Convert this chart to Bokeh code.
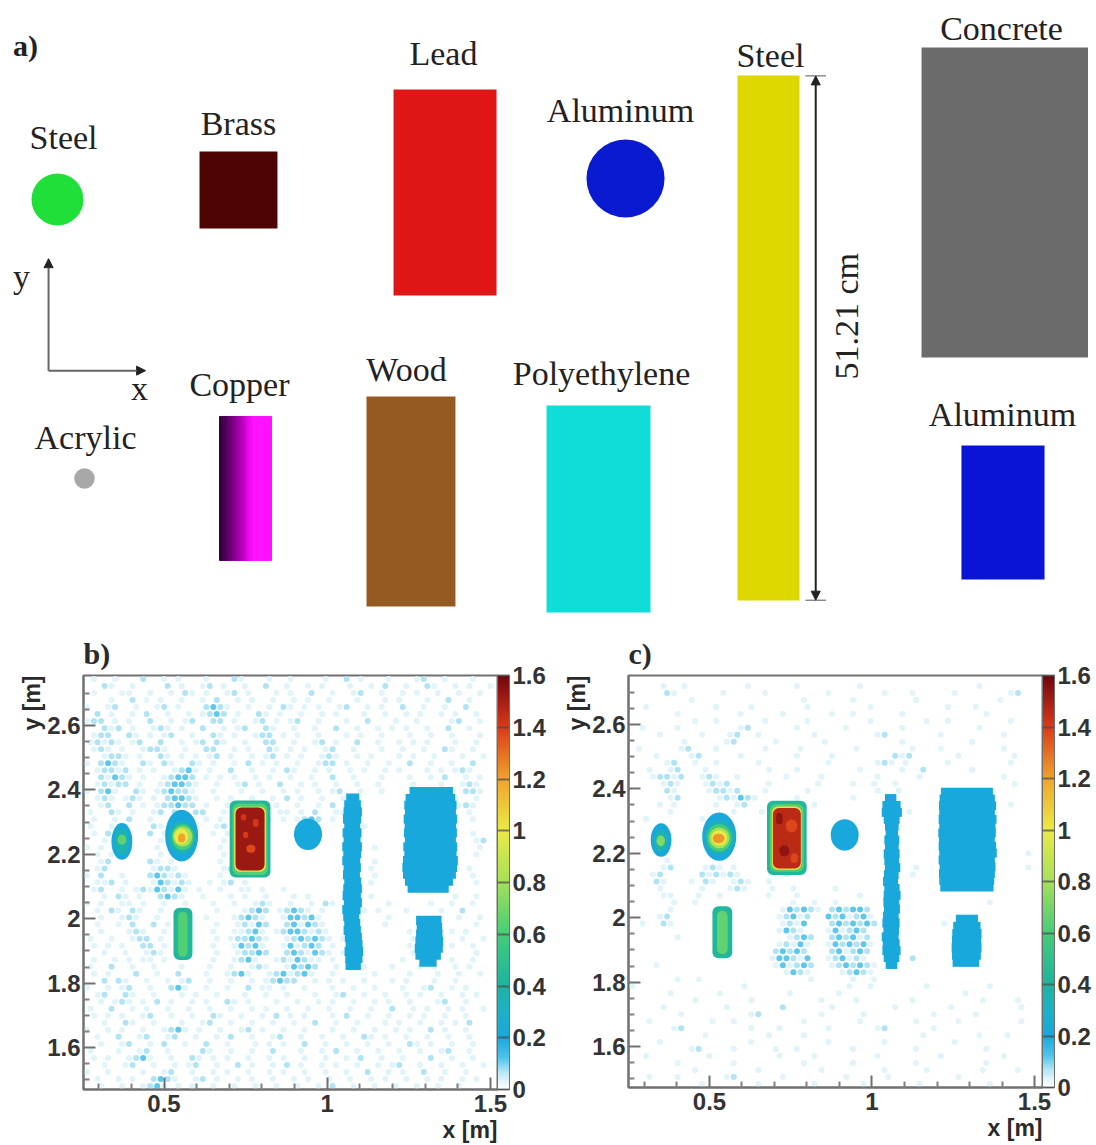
from math import pi
import numpy as np
from bokeh.core.properties import value
from bokeh.embed import file_html
from bokeh.layouts import column, row
from bokeh.models import (Arrow, ColorBar, ColumnDataSource, FixedTicker, LinearColorMapper,
                          NormalHead, Range1d, Title)
from bokeh.plotting import figure
from bokeh.resources import INLINE

# ---------- panel a: the layout of the objects, in cm ----------
SERIF = "Liberation Serif"
SANS = "Liberation Sans"
box_names = ["Brass", "Lead", "Steel bar", "Concrete", "Aluminum block", "Polyethylene", "Wood"]
box_left = [18.60, 37.49, 70.98, 88.90, 92.79, 52.39, 34.86]
box_right = [26.19, 47.52, 77.02, 105.16, 100.88, 62.51, 43.52]
box_top = [46.64, 52.68, 54.04, 56.77, 18.01, 21.91, 22.78]
box_bottom = [39.14, 32.62, 2.92, 26.58, 4.97, 1.75, 2.34]
box_color = ["#4f0404", "#e01616", "#dcd800", "#6b6b6b", "#0a14d6", "#10dcd8", "#955a20"]
disc_x = [4.77, 60.08, 7.40]
disc_y = [41.97, 44.01, 14.80]
disc_d = [5.06, 7.60, 2.00]
disc_color = ["#1fe038", "#0a1ad0", "#a8a8a8"]
copper_left = 20.55
copper_right = 25.61
copper_colors = ["#30003a", "#3c0045", "#480052", "#55005e", "#62006a", "#700078", "#7e0086", "#8c0094", "#9b00a2",
                 "#aa00b0", "#b900be", "#c800cc", "#d704d8", "#e608e6", "#f40cf2", "#fd10fb", "#ff12ff", "#ff12ff",
                 "#ff12ff", "#ff12ff", "#ff12ff", "#ff12ff", "#ff12ff", "#fb12fb"]
label_text = ["Steel", "Brass", "Lead", "Aluminum", "Steel", "Concrete", "y", "x", "Copper", "Wood",
              "Polyethylene", "Acrylic", "Aluminum"]
label_x = [5.36, 22.39, 42.35, 59.59, 74.19, 96.69, 1.27, 12.75, 22.49, 38.75, 57.74, 7.50, 96.79]
label_y = [48.0, 49.36, 56.19, 50.63, 55.99, 58.62, 34.5, 23.55, 23.97, 25.42, 25.03, 18.78, 21.03]

# ---------- panels b and c: the maps ----------
tick_x = [0.5, 1, 1.5]
minor_x = [0.3, 0.4, 0.6, 0.7, 0.8, 0.9, 1.1, 1.2, 1.3, 1.4]
tick_y = [1.6, 1.8, 2, 2.2, 2.4, 2.6]
minor_y = [1.5, 1.55, 1.65, 1.7, 1.75, 1.85, 1.9, 1.95, 2.05, 2.1, 2.15, 2.25, 2.3, 2.35, 2.45, 2.5, 2.55, 2.65, 2.7]
bar_ticks = [0, 0.2, 0.4, 0.6, 0.8, 1, 1.2, 1.4, 1.6]
ramp_at = [0, 0.03, 0.07, 0.12, 0.2, 0.3, 0.4, 0.6, 0.8, 1, 1.2, 1.4, 1.6]
ramp_rgb = [(255, 255, 255), (226, 245, 251), (175, 228, 245), (80, 195, 235), (24, 168, 220), (30, 178, 200),
            (30, 180, 160), (70, 205, 120), (165, 225, 90), (235, 235, 70), (240, 165, 45), (220, 60, 25), (115, 5, 15)]

# b: nested boxes of the measured value: left, right, top, bottom, value
b_box_left = [.529, .543, .701, .710, .715, .719, .742, .772, .752, .735]
b_box_right = [.587, .572, .826, .817, .812, .808, .758, .790, .780, .752]
b_box_top = [2.034, 2.022, 2.367, 2.358, 2.348, 2.345, 2.270, 2.310, 2.230, 2.325]
b_box_bottom = [1.872, 1.882, 2.128, 2.136, 2.146, 2.150, 2.250, 2.285, 2.205, 2.305]
b_box_value = [.42, .62, .42, .62, 1.02, 1.52, 1.40, 1.42, 1.38, 1.42]
b_el_x = [.371, .371, .371, .554, .555, .557, .557, .553, .554, .941]
b_el_y = [2.240, 2.240, 2.245, 2.258, 2.252, 2.253, 2.255, 2.255, 2.251, 2.262]
b_el_w = [.064, .043, .027, .101, .083, .067, .059, .043, .022, .086]
b_el_h = [.114, .083, .031, .161, .098, .080, .062, .048, .028, .098]
b_el_value = [.2, .36, .66, .2, .36, .6, .8, 1.0, 1.2, .2]
b_bar_left = [1.058, 1.052, 1.050, 1.048, 1.052, 1.047, 1.050, 1.046, 1.049, 1.046, 1.050, 1.048, 1.052, 1.049, 1.047,
              1.051, 1.046, 1.049, 1.052, 1.050, 1.054, 1.056, 1.053, 1.055, 1.056]
b_bar_right = [1.098, 1.103, 1.106, 1.104, 1.101, 1.105, 1.102, 1.106, 1.104, 1.101, 1.103, 1.100, 1.104, 1.106, 1.103,
               1.106, 1.102, 1.098, 1.101, 1.103, 1.106, 1.108, 1.110, 1.108, 1.103]
b_concrete_left = [1.252, 1.240, 1.236, 1.238, 1.234, 1.237, 1.235, 1.238, 1.233, 1.236, 1.232, 1.230, 1.232, 1.238, 1.246]
b_concrete_right = [1.385, 1.392, 1.396, 1.394, 1.398, 1.395, 1.397, 1.394, 1.398, 1.396, 1.400, 1.398, 1.394, 1.385, 1.372]
b_alu_left = [1.272, 1.274, 1.272, 1.270, 1.268, 1.270, 1.282]
b_alu_right = [1.350, 1.352, 1.353, 1.355, 1.354, 1.348, 1.335]
b_noise = [
    " .  .   :  . .   .   :.   .  .    .  : .   .   .:  .   . ",
    "  :.  .    : .  .: .  .  :  .  . .   .  . :  .  :.  . .  .",
    " .   ..  .  . :. .  .: .   . .  :  .  .:  .  . .  .  .  .",
    "   .  : . .  .  . :  . .  .  . .  .   .   . .   .  :  .  ",
    ".  .:  .  .: .   :*:.  .  . :. . .  .:  . .  :  .  .  :  ",
    " : .  . :  .  . .:*: .  :. .  .  . .   .  .  . .  . .  . ",
    ".:: . .  :  . .:  :: .  .: . .:  .   .  :   .  .    .:  .",
    "  :.: .  .:. .  :  . .:  :.  .  .  :  .  . . .  .  :  .  ",
    " .::  :. . .:  .  :. .  .:: . .  .   . .  .   .  .  .   .",
    ".:.:. .:  :  . .: :.  .  ::  .  .: .  :  .  . . .   .  . ",
    " .:. .  .::.  .  ::  . .  :. . .  .:  .   .  .  .  :.  . ",
    "  .::. .  :. . . .: .  . .: . .  .:.  . .   . .  .   .  .",
    ". :*:.  :. :.  :. .  . : . .  .  .:: .  .  .  :  .  .  : ",
    " .::.: . .  .:*. .  :  .  . :.  . .  . .  . .   . . .:.  ",
    "  :.*:. .  .:**: . . .  . .  .  .  :  .   .   .  . :  . .",
    " .:.:: .  .:**:.  .  .: .  :  . .  .  .  .    .   .  .:. ",
    ". :*.  :. .:*::.  .   .  .  . .  . .:  .  .       . . ::.",
    " .:. .:. . :**:.  . .  .  . : .  .  . .             .  . ",
    "  .:  : . .::*:: .  .   .  .  .  . :  .              .:. ",
    ".  :. .  .: :  ::  .  .  . .. . :  ..                 .  ",
    " .  . :  .    .  . .      . . .:*: .                   . ",
    ".  .     :.  .    .:                   .                 ",
    " . :     : .      . .                 .                . ",
    "  .       .  .     .                  .                .:",
    ". .       .        .   .                 .              .",
    " . .      .  .     .                                   . ",
    "  .:     :. .      .                     .               ",
    " .:      .::.      .:.                  .             .  ",
    ". :  .   :*:.:.    .                     .             . ",
    " ..: .   .*:.:.  . .: .                 .              . ",
    " .:  . .:.*:.*. .  .  .. .  .          .                 ",
    "  . :. .  :*:.  .   . .  .   . .        .           .  . ",
    ". .  .. .  .  .   .  .  .:.  .  . :.  .    .     .  .  . ",
    " . :. :.  .       .   .:*: .:*:. .     . .   .    .  :   ",
    "  .  .:.  .  .   .   .:*:.  .**:*.   .     .         .  .",
    " .  . :  : .      .  .:.*:  :*.*:.        .            . ",
    "  .   .:.  .      .  ..:*. .:**:.:.  .        .     . .  ",
    ".  .  .:: .       . .::*:.  .:*:*:. .         .      .  .",
    " . . .  :: .      .  .*:*.  .*.:*: .   .      .     .  . ",
    "  .  .  .:.       .  .::*:  :*:.*:. .         .        . ",
    " .  . . .. .      .  .:*.  .:.*:.. .         .      .  . ",
    ".  :  .  .   .   .  .  .:.  .*:*:  .   .   .   . .  . .  ",
    " . .   :  .  :   .  .:*.  .:*.:*.  .     .    .   .  .  .",
    "  : :.  .  . .:  .  .  . .:*::  . . .  .   . .   .  .    ",
    ".  . .:  .  :*.  .  .  : .. .  .   .  .  .   .  .:  . .  ",
    " .:  :.  .   . .  .   .  .  .   .  .:  .  .  . .  .  . . ",
    "  . .:. . : .  . .  :. .   .  .  . .  .  . .  .   .:  .  ",
    ".  :  . .  .  .  .  .  . .  .  .  .  .  .  :  . .  . .  .",
    " . . .  .:  .  .  :.  .  . : . .   . :  .  .  . .  .  .  ",
    "  .  :.  .   .  .:  .  .  .  .  :  .  .   . .  .  . . :  ",
    ".  . .  .  .:*. .  .  .: .  .  .   .  .  .  . .  : .  .  ",
    " .  :  .:  .:  .  . :  .  .:  .  .  .  :. .  .  .  .  .  ",
    "  .  .:  . :  .  :  .   . . .  :  .  .  .  .  :. .  .  . ",
    ".   .  .:  .    :.  .  .  :   .  . :  .  .  .  .  .:  .  ",
    " . .  .:*.  .  :. . .  .  . .  .  .  . :  .  .   :  .  . ",
    "  .  .:  .  . .:  .  : .  . : .  . .  .  . .:  .  .  .  .",
    ".  .    .  .:  .  . .  .  . .  .  .  .  :  . .  :  .  .  ",
    " .  . .  :*:.  .: .  . .  .  . .  .  .  . .  .  . .  . .",
    "  .  .  .:*. . .  .  .  .  .  .  . :  .  .  .  .  .  .  ",
]

# c: the same, with less background
c_box_left = [.509, .523, .677, .686, .692, .695, .705, .735, .715, .750]
c_box_right = [.570, .556, .799, .790, .783, .781, .725, .770, .745, .772]
c_box_top = [2.036, 2.022, 2.363, 2.353, 2.345, 2.341, 2.325, 2.305, 2.225, 2.200]
c_box_bottom = [1.874, 1.887, 2.133, 2.143, 2.149, 2.153, 2.290, 2.265, 2.190, 2.170]
c_box_value = [.42, .66, .42, .62, 1.02, 1.46, 1.54, 1.38, 1.54, 1.38]
c_el_x = [.351, .351, .350, .530, .530, .530, .530, .530, .528, .916]
c_el_y = [2.241, 2.239, 2.239, 2.252, 2.248, 2.248, 2.248, 2.248, 2.246, 2.257]
c_el_w = [.064, .043, .026, .105, .089, .075, .062, .048, .036, .086]
c_el_h = [.104, .069, .034, .150, .104, .084, .065, .047, .030, .098]
c_el_value = [.2, .36, .72, .2, .36, .6, .8, 1.0, 1.22, .2]
c_bar_left = [1.040, 1.032, 1.030, 1.036, 1.040, 1.042, 1.038, 1.040, 1.036, 1.038, 1.040, 1.037, 1.034, 1.038, 1.036,
              1.035, 1.037, 1.034, 1.032, 1.035, 1.030, 1.033, 1.032, 1.036, 1.042]
c_bar_right = [1.075, 1.088, 1.092, 1.085, 1.082, 1.080, 1.084, 1.082, 1.085, 1.083, 1.087, 1.082, 1.080, 1.085, 1.088,
               1.084, 1.086, 1.082, 1.085, 1.083, 1.082, 1.085, 1.088, 1.084, 1.078]
c_concrete_left = [1.212, 1.208, 1.206, 1.207, 1.205, 1.207, 1.204, 1.206, 1.205, 1.207, 1.205, 1.208, 1.206, 1.207, 1.210]
c_concrete_right = [1.372, 1.378, 1.382, 1.378, 1.383, 1.380, 1.381, 1.378, 1.382, 1.384, 1.378, 1.380, 1.378, 1.376, 1.374]
c_alu_left = [1.258, 1.250, 1.247, 1.246, 1.245, 1.246, 1.248]
c_alu_right = [1.326, 1.334, 1.337, 1.336, 1.337, 1.335, 1.330]
c_noise = [
    "                                                          ",
    "    .  .        .      .        .                .        ",
    "     :.      .     .        .       .   .     .       .:  ",
    "        .               .      .        .           .     ",
    "  .         .    .       .        .          .   .        ",
    "      .        .     .      .  .      .           .       ",
    "         .  .      .     .        .       .  .        .   ",
    " .    .        .:      .      .       .          .        ",
    "    .     .   .:  .       .        .:       .        .    ",
    "       .     .:     .      .          .         .         ",
    " .     .:   .      .    .       .       .   .        .    ",
    "   .    .:     .       .    .        :.:      .       .   ",
    "     .:  .  .     .         .      .:. .     .        .   ",
    "  .  .:   .        .   .        .     .  :      .         ",
    "   .::.:  .:.  .      .    .       .     .           .    ",
    "    .:.   .:.:     .      .    .  .  .                .   ",
    "     :.    .::.:   .     .         .  .                   ",
    "     .:     .:.*:.     .       .                          ",
    "    . .     .  .:     .   .          .                .   ",
    "     .        .   .                    .                  ",
    "  .       .                                               ",
    "                                                 .        ",
    "                                                          ",
    "                                                          ",
    "                                                          ",
    "                                                        . ",
    "     .                                                    ",
    "    .:    .:. .       .                 .               . ",
    "   .:     :.:.:.      .                 .                 ",
    "   :.   . :.  .:.  .                                      ",
    "    .     .   .:.   .  .     .                            ",
    "    ..   .  .      .   .        .                         ",
    "      .  .             .  .  .                     .      ",
    "     .               .*:*:. :*:**:                        ",
    "    .:               .:*.:  *:*.:*.                       ",
    " .  :.               .:.*   :*:*:*:         .             ",
    "                     .*:.   .*.:*:                        ",
    "      .               .:*:  :*:*.:                        ",
    "                     .:.*.  .*:*:*.                       ",
    "                    :*:*:   :*.:*:                        ",
    "                    .**:.*  .:*.:.      :                 ",
    "   .                .*.:*:  .:*:*:.                       ",
    "                      .*:.    .:*:.                       ",
    "      .  .               .     .  .                       ",
    ".               .              .  .       .        .      ",
    "     .      .         .      .                 .          ",
    "         .       .         .    .       .         .    .  ",
    "    .        .       :      .        .       .         .  ",
    "       .         .:        .     .         .     .        ",
    "  .        .  .         .       .       .     .        .  ",
    "      .:         .   .      .      .:      .              ",
    "          .        .    .                .       .   .    ",
    "    .            .          .       .         .           ",
    "        .:    .     .  .       .        .         .       ",
    "  .        .         .    .        .        .        .    ",
    "      .       .         .      .        .         .       ",
    "         .        .        .        .     .       .    .  ",
    "  .   .      .:      .        .     .         .           ",
    "          .       .       .      .       .         .      ",
]

ramp = []
for i in np.linspace(0, 1.6, 256):
    ch = [int(np.interp(i, ramp_at, [c[k] for c in ramp_rgb])) for k in range(3)]
    ramp.append("#%02x%02x%02x" % tuple(ch))
mapper = LinearColorMapper(palette=ramp, low=0, high=1.6)
noise_level = {".": .035, ":": .07, "*": .115}


def heat_panel(xr, yr, frame_h, left, top, bottom, right, noise, boxes, ellipses, bars, tag):
    p = figure(width=left + 414 + right, height=top + frame_h + bottom, frame_width=414, frame_height=frame_h,
               x_range=Range1d(*xr), y_range=Range1d(*yr), toolbar_location=None, output_backend="svg",
               min_border_left=left, min_border_right=right, min_border_top=top, min_border_bottom=bottom)
    p.grid.visible = False
    p.outline_line_color = "#707070"
    p.outline_line_width = 2
    for ax, major, minor, over, standoff in ((p.xaxis[0], tick_x, minor_x, {0.5: "0.5", 1: "1", 1.5: "1.5"}, 5),
                                             (p.yaxis[0], tick_y, minor_y,
                                              {1.6: "1.6", 1.8: "1.8", 2: "2", 2.2: "2.2", 2.4: "2.4", 2.6: "2.6"}, 3)):
        ax.ticker = FixedTicker(ticks=major, minor_ticks=minor)
        ax.major_label_overrides = over
        ax.axis_line_color = "#707070"
        ax.axis_line_width = 2
        ax.major_tick_line_color = "#707070"
        ax.minor_tick_line_color = "#808080"
        ax.major_tick_line_width = 2
        ax.minor_tick_line_width = 2
        ax.major_tick_in = 12
        ax.major_tick_out = 0
        ax.minor_tick_in = 6
        ax.minor_tick_out = 0
        ax.major_label_standoff = standoff
        ax.major_label_text_font = SANS
        ax.major_label_text_font_style = "bold"
        ax.major_label_text_font_size = "24px"
        ax.major_label_text_color = "#333333"

    # background speckles
    cw = (xr[1] - xr[0]) / 59
    ch = (yr[1] - yr[0]) / 59
    nx, ny, nv = [], [], []
    for r, line in enumerate(noise):
        for c, mark in enumerate(line):
            if mark in noise_level:
                nx.append(xr[0] + (c + .5 + .5 * (r % 2)) * cw)
                ny.append(yr[1] - (r + .5) * ch)
                nv.append(noise_level[mark])
    src = ColumnDataSource(dict(x=nx, y=ny, v=nv))
    p.scatter("x", "y", size=6, source=src, line_color=None, fill_color={"field": "v", "transform": mapper})

    # jagged objects of low value, row by row
    for y_top, y_bottom, row_left, row_right in bars:
        ys = np.linspace(y_top, y_bottom, len(row_left))
        hh = (y_top - y_bottom) / (len(row_left) - 1)
        s = ColumnDataSource(dict(y=ys, l=row_left, r=row_right, v=[.2] * len(row_left)))
        p.hbar(y="y", left="l", right="r", height=hh * 1.3, source=s, line_color=None,
               fill_color={"field": "v", "transform": mapper})

    e = ColumnDataSource(dict(zip("xywhv", ellipses)))
    p.ellipse("x", "y", width="w", height="h", source=e, line_color=None,
              fill_color={"field": "v", "transform": mapper})
    b = ColumnDataSource(dict(zip("lrtbv", boxes)))
    p.quad(left="l", right="r", top="t", bottom="b", source=b, line_color=None, border_radius=6,
           fill_color={"field": "v", "transform": mapper})

    cb = ColorBar(color_mapper=mapper, ticker=FixedTicker(ticks=bar_ticks), width=12, padding=0, margin=0,
                  major_label_overrides={0: "0", 0.2: "0.2", 0.4: "0.4", 0.6: "0.6", 0.8: "0.8", 1: "1", 1.2: "1.2",
                                         1.4: "1.4", 1.6: "1.6"},
                  major_tick_line_color="#4a4a4a", major_tick_line_alpha=.7, major_tick_line_width=2, major_tick_in=12,
                  minor_tick_line_color=None, bar_line_color="#707070", bar_line_width=1, label_standoff=3,
                  major_label_text_font=SANS, major_label_text_font_style="bold", major_label_text_font_size="24px",
                  major_label_text_color="#333333")
    p.add_layout(cb, "right")
    p.add_layout(Title(text=tag, align="left", text_font=SERIF, text_font_size="30px", text_font_style="bold",
                       text_color="#2a2a2a", standoff=12), "above")
    p.add_layout(Title(text="x [m]", align="right", text_font=SANS, text_font_size="23px", text_font_style="bold",
                       text_color="#2a2a2a", standoff=0), "below")
    p.add_layout(Title(text="y [m]", align="right", text_font=SANS, text_font_size="23px", text_font_style="bold",
                       text_color="#2a2a2a", standoff=0), "left")
    return p


pa = figure(width=1088, height=624, x_range=Range1d(0, 105.16), y_range=Range1d(.584, 60.56), toolbar_location=None,
            output_backend="svg", min_border_left=8, min_border_top=8, min_border_right=0, min_border_bottom=0)
pa.axis.visible = False
pa.grid.visible = False
pa.outline_line_color = None
pa.quad(left=box_left, right=box_right, top=box_top, bottom=box_bottom, fill_color=box_color, line_color=None)
pa.ellipse(x=disc_x, y=disc_y, width=disc_d, height=disc_d, fill_color=disc_color, line_color=None)
copper_edges = np.linspace(copper_left, copper_right, len(copper_colors) + 1)
pa.quad(left=copper_edges[:-1], right=copper_edges[1:], top=20.84, bottom=6.82, fill_color=copper_colors,
        line_color=copper_colors, line_width=1)
pa.text(x=label_x, y=label_y, text=label_text, text_font=value(SERIF), text_font_size="34px", text_align="center",
        text_baseline="middle", text_color="#222222")
pa.text(x=[81.6], y=[30.6], text=["51.21 cm"], angle=pi / 2, text_font=value(SERIF), text_font_size="34px",
        text_align="center", text_baseline="middle", text_color="#222222")
pa.text(x=[1.65], y=[57.0], text=["a)"], text_font=value(SERIF), text_font_size="30px", text_font_style="bold",
        text_align="center", text_baseline="middle", text_color="#222222")
head = dict(size=9, fill_color="#222222", line_color="#222222")
pa.add_layout(Arrow(x_start=3.9, y_start=25.3, x_end=3.9, y_end=36.2, line_color="#666666", line_width=2,
                    end=NormalHead(**head)))
pa.add_layout(Arrow(x_start=3.9, y_start=25.3, x_end=13.35, y_end=25.3, line_color="#666666", line_width=2,
                    end=NormalHead(**head)))
pa.add_layout(Arrow(x_start=78.6, y_start=2.95, x_end=78.6, y_end=54.0, line_color="#222222", line_width=2,
                    start=NormalHead(**head), end=NormalHead(**head)))
pa.segment(x0=[77.6, 77.6], y0=[54.0, 2.95], x1=[79.6, 79.6], y1=[54.0, 2.95], line_color="#555555", line_width=1)

pb = heat_panel((.2534, 1.5214), (1.470, 2.755), 414, 83, 51, 54, 53, b_noise,
                (b_box_left, b_box_right, b_box_top, b_box_bottom, b_box_value),
                (b_el_x, b_el_y, b_el_w, b_el_h, b_el_value),
                [(2.375, 1.855, b_bar_left, b_bar_right), (2.395, 2.095, b_concrete_left, b_concrete_right),
                 (1.995, 1.865, b_alu_left, b_alu_right)], "b)")
pc = heat_panel((.2508, 1.5246), (1.473, 2.752), 412, 78, 49, 58, 54, c_noise,
                (c_box_left, c_box_right, c_box_top, c_box_bottom, c_box_value),
                (c_el_x, c_el_y, c_el_w, c_el_h, c_el_value),
                [(2.370, 1.855, c_bar_left, c_bar_right), (2.390, 2.095, c_concrete_left, c_concrete_right),
                 (1.995, 1.862, c_alu_left, c_alu_right)], "c)")

page = column(pa, row(pb, pc, spacing=0), spacing=0)
open("out.html", "w").write(file_html(page, INLINE))
